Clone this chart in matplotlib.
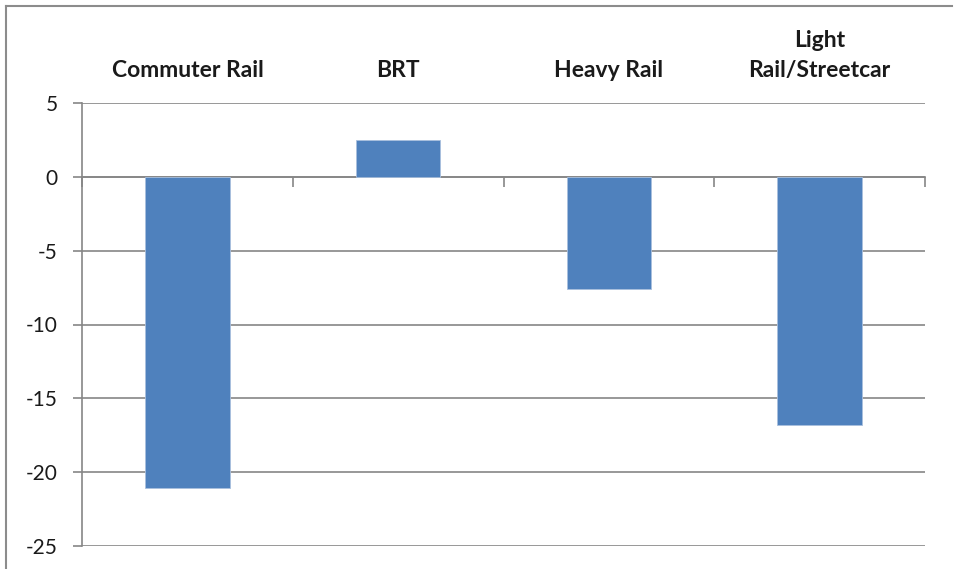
import matplotlib.pyplot as plt
from matplotlib.lines import Line2D
import numpy as np

plt.rcParams['font.family'] = ['Lato', 'DejaVu Sans']

# mode share change by transit type
categories = ['Commuter Rail', 'BRT', 'Heavy Rail', 'Light\nRail/Streetcar']
values = [-21.1, 2.5, -7.6, -16.8]
yticks = [5, 0, -5, -10, -15, -20, -25]

W, H = 961, 569
fig = plt.figure(figsize=(W / 100, H / 100), dpi=100)
ax = fig.add_axes([82 / W, (H - 545.7) / H, (925 - 82) / W, (545.7 - 103.3) / H])

grey = '#868686'
x = np.arange(len(categories))
ax.bar(x, values, width=0.4, color='#4F81BD', edgecolor='#a9c0de', linewidth=0.6, zorder=3)

ax.set_xlim(-0.5, len(categories) - 0.5)
ax.set_ylim(-25, 5)
ax.set_yticks(yticks)
ax.set_yticklabels([str(v) for v in yticks])
ax.yaxis.grid(True, color=grey, linewidth=1.2, zorder=0)

# horizontal axis sits on zero, ticks between categories
ax.spines['bottom'].set_position(('data', 0))
ax.spines['bottom'].set_color(grey)
ax.spines['bottom'].set_linewidth(1.2)
ax.set_xticks(np.arange(len(categories) + 1) - 0.5)
ax.set_xticklabels([])
ax.tick_params(axis='x', direction='out', length=7, width=1.2, color=grey)

ax.spines['left'].set_color(grey)
ax.spines['left'].set_linewidth(1.2)
ax.spines['top'].set_visible(False)
ax.spines['right'].set_visible(False)
ax.tick_params(axis='y', direction='out', length=6.5, width=1.2, color=grey,
               pad=11, labelsize=15, labelcolor='#1a1a1a')

# category names above the plot
top = ax.secondary_xaxis('top')
top.set_xticks(x)
top.set_xticklabels(categories, fontsize=16.5, fontweight='bold', color='#1a1a1a',
                    linespacing=1.55)
top.tick_params(length=0, pad=16)
top.spines['top'].set_visible(False)

# chart frame
fig.add_artist(Line2D([6 / W, 952 / W], [1 - 6 / H, 1 - 6 / H], color='#8c8c8c', linewidth=1.5))
fig.add_artist(Line2D([6 / W, 6 / W], [0, 1 - 6 / H], color='#8c8c8c', linewidth=1.5))

fig.savefig('out.png', dpi=100)
